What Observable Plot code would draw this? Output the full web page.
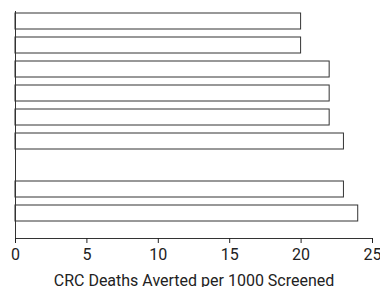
<!DOCTYPE html>
<html>
<head>
<meta charset="utf-8">
<script src="https://cdn.jsdelivr.net/npm/d3@7"></script>
<script src="https://cdn.jsdelivr.net/npm/@observablehq/plot@0.6"></script>
<style>
  html, body { margin: 0; padding: 0; background: #fff; }
</style>
</head>
<body>
<div id="chart"></div>
<script>
// Rows from top to bottom (one empty slot separates the groups)
const slots = ["r1", "r2", "r3", "r4", "r5", "r6", "gap", "r7", "r8"];
const values = [20, 20, 22, 22, 22, 23, null, 23, 24];
const xTicks = [0, 5, 10, 15, 20, 25];
const xLabel = "CRC Deaths Averted per 1000 Screened";

const data = slots.map((s, i) => ({slot: s, value: values[i]})).filter(d => d.value != null);

const chart = Plot.plot({
  width: 380,
  height: 287,
  marginLeft: 15,
  marginRight: 8,
  marginTop: 11,
  marginBottom: 49,
  style: {fontFamily: "Roboto", fontSize: "16px", color: "#222", background: "#fff"},
  x: {domain: [0, 25], ticks: xTicks},
  y: {domain: slots, range: [11, 222], paddingInner: 0.344, paddingOuter: 0, axis: null},
  marks: [
    Plot.barX(data, {x: "value", y: "slot", fill: "white", stroke: "#333", strokeWidth: 1}),
    Plot.frame({anchor: "left", stroke: "#333"}),
    Plot.frame({anchor: "bottom", stroke: "#333"}),
    Plot.axisX({ticks: xTicks, tickSize: 5, tickPadding: 5, label: xLabel, labelAnchor: "center", labelArrow: "none", labelOffset: 47})
  ]
});
document.getElementById("chart").appendChild(chart);
</script>
</body>
</html>
